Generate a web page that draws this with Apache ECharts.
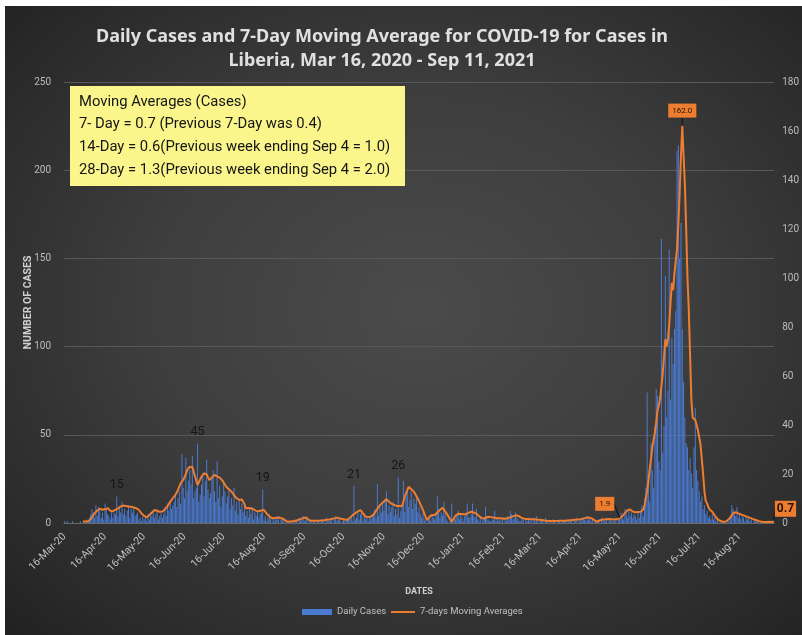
<!DOCTYPE html>
<html><head><meta charset="utf-8">
<script src="https://cdn.jsdelivr.net/npm/echarts@6.0.0/dist/echarts.min.js"></script>
<style>
html,body{margin:0;padding:0;background:#fff;}
#bg{position:absolute;left:5px;top:6px;width:797px;height:629px;background:radial-gradient(ellipse 75% 75% at 52% 48%, #4b4b4b 0%, #3e3e3e 45%, #292929 85%, #202020 100%);}
#chart{position:absolute;left:0;top:0;width:802px;height:635px;}
</style></head><body><div id="bg"></div><div id="chart"></div>
<script>
// ---------- data ----------
const startYear = 2020, startMonth = 2, startDay = 16; // 16-Mar-2020
const dayCount = 545;
const monthNames = ['Jan','Feb','Mar','Apr','May','Jun','Jul','Aug','Sep','Oct','Nov','Dec'];
const tickLabels = ['16-Mar-20','16-Apr-20','16-May-20','16-Jun-20','16-Jul-20','16-Aug-20','16-Sep-20','16-Oct-20','16-Nov-20','16-Dec-20','16-Jan-21','16-Feb-21','16-Mar-21','16-Apr-21','16-May-21','16-Jun-21','16-Jul-21','16-Aug-21'];

const dailyCases = [
1,0,1,0,0,0,1, 0,0,0,0,0,1,0, 0,1,0,2,1,3,5, 8,6,3,10,4,9,7,
3,6,2,11,8,5,4, 2,7,3,6,5,15,4, 9,6,12,5,8,4,7, 10,3,8,6,9,4,5,
6,2,3,1,4,2,3, 1,5,2,6,4,7,3, 5,8,2,4,6,3,5, 9,4,11,7,13,8,10,
12,16,9,14,18,11,39, 20,14,37,18,24,30,22, 38,14,18,20,45,12,16, 22,28,15,24,36,19,14,
17,25,30,18,12,35,14, 21,9,15,24,18,11,15, 19,8,14,10,20,7,12, 5,14,8,11,6,10,4,
7,3,9,5,8,2,6, 4,7,3,5,6,19,2, 4,1,3,5,2,0,3, 1,3,2,4,0,2,3,
1,0,2,0,0,1,0, 1,0,2,1,0,3,1, 2,4,1,3,2,0,1, 1,0,2,1,0,1,1,
0,2,1,1,0,3,1, 2,1,3,0,2,4,1, 2,3,0,1,2,1,2, 1,3,2,4,1,21,2,
3,6,2,5,7,1,4, 2,3,1,4,2,3,5, 8,3,22,4,9,6,11, 7,14,18,5,10,6,9,
12,4,8,5,26,3,7, 10,24,6,15,20,9,13, 18,8,14,11,16,6,9, 5,3,7,2,1,0,2,
4,1,5,3,2,6,15, 8,3,6,4,12,5,2, 1,0,2,11,1,3,2, 4,7,2,5,3,1,4,
6,11,3,3,5,11,4, 3,8,2,1,4,0,2, 3,9,4,2,1,1,2, 2,7,1,3,1,2,1,
3,0,2,1,4,2,7, 5,2,3,6,3,2,1, 1,3,2,0,2,1,3, 1,2,0,3,1,4,1,
0,2,1,1,0,3,1, 1,0,1,0,2,1,0, 0,1,2,0,1,1,1, 2,0,1,1,2,0,2,
1,3,0,2,1,2,3, 2,1,4,2,3,1,2, 0,1,0,1,2,0,3, 1,2,1,3,0,2,1,
2,1,1,3,0,2,2, 6,3,2,8,5,3,7, 4,6,3,5,4,2,6, 3,6,10,4,14,20,74,
25,12,45,30,20,55,76, 72,35,30,161,40,55,140, 60,75,155,70,105,90,110, 120,211,214,150,170,110,80,
60,45,43,30,37,28,20, 43,65,30,24,18,12,15, 8,10,5,7,3,4,2, 5,2,4,1,3,0,1,
0,1,0,1,0,2,1, 3,10,8,6,4,9,3, 5,2,4,3,1,4,2, 3,1,2,0,2,1,1,
1,0,0,1,0,0,1, 0,1,0,0,1,2
];

const movingAvg7 = [
null,null,null,null,null,null,null, null,null,null,null,null,null,null,
0.6,0.6,0.6,0.7,0.7,1.0,1.5, 2.4,3.2,4.0,4.6,5.1,5.6,5.8,
5.7,5.4,5.2,5.6,6.0,6.1,5.5, 5.0,4.6,4.8,5.1,5.4,5.6,6.0,
6.4,6.8,7.0,7.1,7.0,6.9,6.8, 6.7,6.7,6.6,6.4,6.3,6.1,6.0,
5.9,5.3,4.6,3.9,3.3,2.9,2.6, 2.3,2.7,3.3,3.8,4.3,4.8,5.3,
5.1,4.9,4.7,4.6,4.6,4.7,4.8, 5.5,6.2,7.0,7.8,8.6,9.4,10.1,
10.8,11.5,12.1,13.5,14.9,16.2,16.9, 17.6,18.2,19.9,21.6,22.3,23.0,23.7,
22.8,21.0,19.2,17.3,15.5,16.6,17.8, 18.9,19.6,20.3,20.9,19.8,18.6,17.5,
18.0,18.6,19.1,19.6,19.3,19.0,18.8, 18.5,18.2,17.4,16.5,15.7,14.8,14.3,
13.8,13.3,12.8,12.1,11.4,10.7,10.1, 9.4,9.4,9.5,9.6,9.4,7.7,6.0,
6.2,6.1,5.9,6.0,6.0,5.6,5.3, 4.9,4.6,4.8,5.0,5.1,5.2,5.3,
4.6,3.9,3.3,2.8,2.3,1.9,2.0, 2.0,2.1,2.1,2.2,2.2,2.2,1.9,
1.5,1.2,0.8,0.5,0.6,0.6,0.7, 0.7,0.8,0.8,0.9,1.2,1.4,1.6,
1.8,2.0,2.2,2.3,1.9,1.4,1.1, 0.9,0.9,0.9,0.9,0.9,0.9,0.9,
0.9,1.0,1.1,1.1,1.2,1.3,1.4, 1.4,1.5,1.6,1.8,1.9,2.1,2.2,
2.1,1.9,1.8,1.6,1.5,1.4,1.3, 1.2,1.7,2.2,2.7,3.2,3.7,4.0,
4.4,4.7,5.0,5.3,4.6,3.9,3.2, 2.6,2.6,2.5,2.6,2.6,2.6,3.4,
4.2,5.0,5.8,6.6,7.3,7.8,8.3, 8.8,9.2,9.7,9.2,8.7,8.2,7.8,
7.6,7.4,7.1,6.9,6.9,6.9,6.9, 6.9,8.8,10.7,12.1,13.4,14.8,14.3,
13.8,13.3,12.8,11.9,10.9,10.0,8.8, 7.6,6.5,5.3,3.9,2.5,1.2,1.9,
2.6,3.0,3.3,3.3,3.3,3.8,4.3, 4.8,5.3,5.8,6.2,5.5,4.8,4.0,
3.1,2.3,1.4,0.5,1.3,2.1,3.0, 3.8,3.8,3.7,3.7,3.7,3.6,3.6,
3.6,3.9,4.1,4.4,4.6,4.5,4.3, 4.2,3.8,3.3,2.9,2.4,2.0,1.5,
1.8,2.1,2.4,2.6,2.5,2.4,2.3, 2.2,2.1,2.0,1.9,1.9,1.9,1.8,
1.8,1.8,1.7,1.7,1.9,2.1,2.3, 2.5,2.7,2.9,3.1,3.3,3.0,2.6,
2.3,2.1,1.9,1.7,1.6,1.6,1.6, 1.5,1.5,1.5,1.5,1.4,1.4,1.3,
1.3,1.2,1.2,1.1,1.0,1.0,0.9, 0.9,0.8,0.8,0.8,0.8,0.8,0.8,
0.8,0.8,0.9,0.9,0.9,0.9,0.9, 0.9,1.0,1.0,1.1,1.1,1.2,1.2,
1.3,1.3,1.4,1.4,1.5,1.7,1.8, 2.0,2.1,2.2,2.3,2.2,2.0,1.8,
1.4,0.9,0.5,0.7,0.9,1.1,1.3, 1.4,1.4,1.5,1.5,1.5,1.6,1.6,
1.5,1.5,1.4,1.4,1.5,1.7,1.9, 2.4,2.8,3.3,4.0,4.6,5.3,5.9,
5.5,5.0,4.7,4.5,4.4,4.5,4.5, 4.5,4.6,5.0,5.5,7.0,10.0,13.0,
17.0,22.0,26.0,31.0,34.0,37.0,41.0, 46.0,48.0,51.0,56.0,61.0,68.0,75.0,
72.0,75.0,81.0,90.0,98.0,95.0,102.0, 107.0,112.0,122.0,135.0,150.0,162.0,150.0,
138.0,120.0,100.0,87.0,68.0,50.0,43.0, 42.5,42.0,40.0,38.0,35.0,32.0,26.0,
20.0,13.0,9.0,8.0,6.5,5.5,5.0, 4.6,3.8,3.0,2.2,1.6,1.2,0.9,
0.7,0.5,0.5,0.5,0.7,1.2,1.7, 2.4,3.2,4.0,4.6,4.4,4.1,3.9,
3.7,3.5,3.3,3.1,2.9,2.7,2.5, 2.3,2.1,1.9,1.7,1.5,1.3,1.1,
0.9,0.7,0.6,0.5,0.5,0.4,0.4, 0.4,0.5,0.5,0.4,0.4,0.7
];

const barLabelDays = [40, 102, 152, 222, 256];
const peakLabelDay = 474, mayLabelDay = 426, lastLabelDay = 544;

const titleLines = ['Daily Cases and 7-Day Moving Average for COVID-19 for Cases in', 'Liberia, Mar 16, 2020 - Sep 11, 2021'];
const boxLines = ['Moving Averages (Cases)', '7- Day = 0.7 (Previous 7-Day was 0.4)', '14-Day = 0.6(Previous week ending Sep 4 = 1.0)', '28-Day = 1.3(Previous week ending Sep 4 = 2.0)'];

// ---------- build ----------
const categories = [];
for (let i = 0; i < dayCount; i++) {
  const dt = new Date(Date.UTC(startYear, startMonth, startDay + i));
  categories.push(dt.getUTCDate() + '-' + monthNames[dt.getUTCMonth()] + '-' + String(dt.getUTCFullYear()).slice(2));
}

const barData = dailyCases.map((v, i) => barLabelDays.includes(i) ? { value: v, label: { show: true } } : v);

const lineData = movingAvg7.map((v, i) => {
  if (i === peakLabelDay) return { value: v, symbol: 'circle', symbolSize: 1, label: { show: true, position: 'top', distance: 8, fontSize: 8, padding: [3, 4] } };
  if (i === mayLabelDay) return { value: v, symbol: 'circle', symbolSize: 1, label: { show: true, position: 'top', distance: 5, fontSize: 8, padding: [3, 4] } };
  if (i === lastLabelDay) return { value: v, symbol: 'circle', symbolSize: 1, label: { show: true, position: 'top', distance: 4, fontSize: 12, fontWeight: 'bold', padding: [2, 2] } };
  return v;
});

const FONT = 'Roboto, "Noto Sans", sans-serif';
const chart = echarts.init(document.getElementById('chart'), null, { renderer: 'canvas' });

chart.setOption({
  backgroundColor: 'transparent',
  animation: false,
  textStyle: { fontFamily: FONT },
  title: {
    text: titleLines.join('\n'),
    left: 377, top: 20, textAlign: 'center',
    textStyle: { color: '#e0e0e0', fontSize: 18, fontWeight: 'bold', lineHeight: 24, fontFamily: '"Noto Sans", sans-serif' }
  },
  legend: [{
    left: 297, top: 602,
    itemWidth: 30, itemHeight: 6,
    textStyle: { color: '#c0c0c0', fontSize: 9.5 },
    data: [{ name: 'Daily Cases', icon: 'rect' }]
  }, {
    left: 386, top: 602,
    itemWidth: 24, itemHeight: 2,
    textStyle: { color: '#c0c0c0', fontSize: 9.5 },
    data: [{ name: '7-days Moving Averages', icon: 'path://M0,0H24V2H0Z' }]
  }],
  grid: { left: 64, right: 21, top: 82, bottom: 112 },
  xAxis: {
    type: 'category', data: categories, boundaryGap: true,
    name: 'DATES', nameLocation: 'middle', nameGap: 64,
    nameTextStyle: { color: '#d0d0d0', fontWeight: 'bold', fontSize: 9 },
    axisTick: { show: false },
    axisLine: { lineStyle: { color: '#6a6a6a' } },
    axisLabel: {
      interval: (idx, val) => tickLabels.includes(val),
      rotate: 45, color: '#c0c0c0', fontSize: 10.5, margin: 12
    }
  },
  yAxis: [{
    type: 'value', min: 0, max: 250, interval: 50,
    name: 'NUMBER OF CASES', nameLocation: 'middle', nameGap: 30, nameRotate: 90, nameMoveOverlap: false,
    nameTextStyle: { color: '#d0d0d0', fontWeight: 'bold', fontSize: 10.5 },
    axisLine: { show: false }, axisTick: { show: false },
    axisLabel: { color: '#bcbcbc', fontSize: 10, margin: 13 },
    splitLine: { lineStyle: { color: '#585858', width: 1 } }
  }, {
    type: 'value', min: 0, max: 180, interval: 20, position: 'right',
    axisLine: { show: false }, axisTick: { show: false },
    axisLabel: { color: '#bcbcbc', fontSize: 10, margin: 8 },
    splitLine: { show: false }
  }],
  series: [{
    name: 'Daily Cases', type: 'bar', data: barData, yAxisIndex: 0,
    barWidth: 1,
    itemStyle: { color: '#4a7bd2' },
    label: { show: false, position: 'top', distance: 5, color: '#151515', fontSize: 12.5 }
  }, {
    name: '7-days Moving Averages', type: 'line', data: lineData, yAxisIndex: 1,
    symbol: 'none', showSymbol: true, showAllSymbol: true, connectNulls: false,
    lineStyle: { color: '#ED7D31', width: 2 },
    itemStyle: { color: '#ED7D31' },
    label: {
      show: false, color: '#2a1200', backgroundColor: '#ED7D31',
      formatter: p => Number(p.value).toFixed(1)
    },
    labelLine: { show: true, lineStyle: { color: '#111', width: 1 } },
    labelLayout: p => {
      if (p.dataIndex === mayLabelDay) return { dx: -15, dy: -2 };
      if (p.dataIndex === lastLabelDay) return { dx: 12, dy: 0 };
      return {};
    },
    z: 5
  }],
  graphic: [{
    type: 'group', left: 70, top: 86, z: 100,
    children: [{
      type: 'rect', shape: { x: 0, y: 0, width: 335, height: 100 },
      style: { fill: '#fbf68c' }, z: 100
    }].concat(boxLines.map((t, i) => ({
      type: 'text', x: 9, y: 16 + i * 22.7, z: 101,
      style: { text: t, fill: '#151515', font: '14.8px ' + FONT, textVerticalAlign: 'middle' }
    })))
  }]
});
</script></body></html>
